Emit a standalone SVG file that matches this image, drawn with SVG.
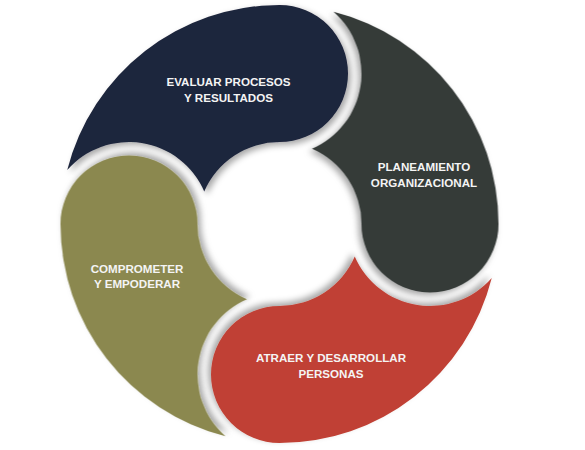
<svg xmlns="http://www.w3.org/2000/svg" width="585" height="450" viewBox="0 0 585 450">
  <defs>
    <filter id="soft" x="-10%" y="-10%" width="125%" height="125%">
      <feDropShadow dx="3" dy="3" stdDeviation="3" flood-color="#000" flood-opacity="0.35"/>
    </filter>
    <!-- one comma-shaped ring segment, head at the top, tail sweeping left -->
    <path id="seg" d="M -75.26 -32.57 A 82 82 0 0 1 0 -82 A 68.5 68.5 0 0 0 0 -219 A 219 219 0 0 0 -212.25 -53.95 A 82 82 0 0 1 -75.26 -32.57 Z"/>
  </defs>
  <style>
    .label { font-family: "Liberation Sans", Arial, sans-serif; font-size: 11.6px; font-weight: bold; fill: #f4f4f4; text-anchor: middle; }
  </style>
  <rect width="585" height="450" fill="#ffffff"/>

  <g id="evaluar">
    <use href="#seg" transform="translate(279.5,224)" fill="#1e253c" filter="url(#soft)"/>
    <text class="label" x="228.5" y="86">EVALUAR PROCESOS</text>
    <text class="label" x="228.5" y="101.5">Y RESULTADOS</text>
  </g>

  <g id="comprometer">
    <use href="#seg" transform="translate(279.5,224) rotate(-90)" fill="#8b884f" filter="url(#soft)"/>
    <text class="label" x="137" y="272.5">COMPROMETER</text>
    <text class="label" x="137" y="288">Y EMPODERAR</text>
  </g>

  <g id="atraer">
    <use href="#seg" transform="translate(279.5,224) rotate(180)" fill="#c04134" filter="url(#soft)"/>
    <text class="label" x="331" y="362">ATRAER Y DESARROLLAR</text>
    <text class="label" x="331" y="377.5">PERSONAS</text>
  </g>

  <g id="planeamiento">
    <use href="#seg" transform="translate(279.5,224) rotate(90)" fill="#353a38" filter="url(#soft)"/>
    <text class="label" x="424" y="171">PLANEAMIENTO</text>
    <text class="label" x="424" y="186.5">ORGANIZACIONAL</text>
  </g>

  <g id="connectors"/>
</svg>
